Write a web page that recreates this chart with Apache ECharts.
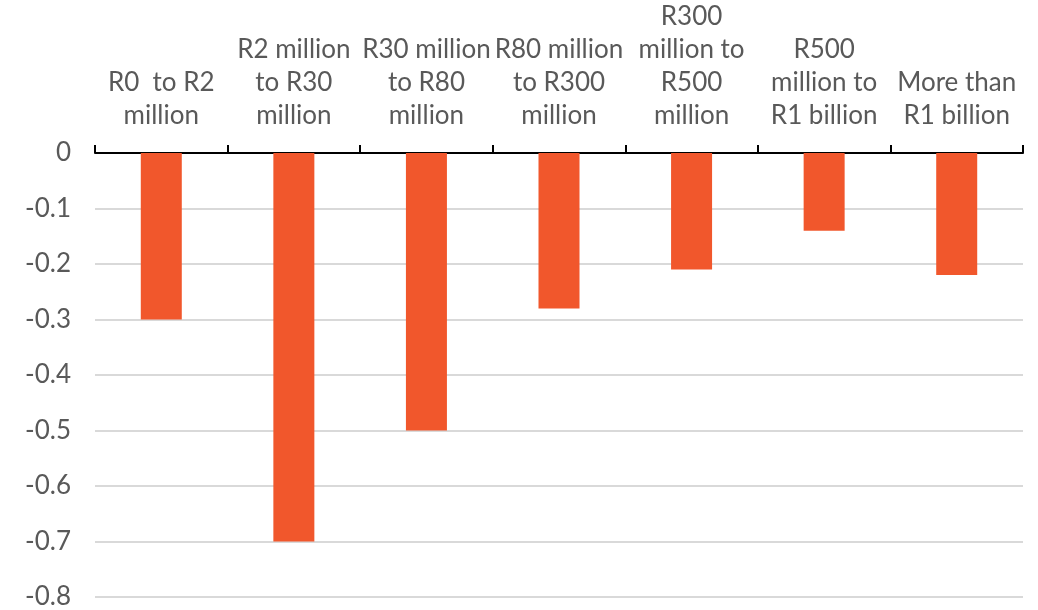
<!DOCTYPE html>
<html>
<head>
<meta charset="utf-8">
<script src="https://cdn.jsdelivr.net/npm/echarts@6/dist/echarts.min.js"></script>
<style>
  html, body { margin: 0; padding: 0; background: #ffffff; }
  #chart { width: 1038px; height: 610px; }
</style>
</head>
<body>
<div id="chart"></div>
<script>
// Turnover bands (line breaks keep the wrapping of each band label)
const categories = [
  'R0  to R2\nmillion',
  'R2 million\nto R30\nmillion',
  'R30 million\nto R80\nmillion',
  'R80 million\nto R300\nmillion',
  'R300\nmillion to\nR500\nmillion',
  'R500\nmillion to\nR1 billion',
  'More than\nR1 billion'
];

// Change per band
const values = [-0.30, -0.70, -0.50, -0.28, -0.21, -0.14, -0.22];

// Value axis range and step
const yMin = -0.8;
const yMax = 0;
const yStep = 0.1;

const textColor = '#595959';
const fontFamily = 'Lato, "Open Sans", sans-serif';

const chart = echarts.init(document.getElementById('chart'), null, { renderer: 'canvas' });

chart.setOption({
  animation: false,
  backgroundColor: '#ffffff',
  grid: { left: 95, right: 15, top: 151, bottom: 11, containLabel: false },
  xAxis: {
    type: 'category',
    position: 'top',
    data: categories,
    axisLine: { show: true, onZero: false, lineStyle: { color: '#000000', width: 2 } },
    axisTick: { show: true, length: 8, inside: false, lineStyle: { color: '#000000', width: 2 } },
    axisLabel: {
      interval: 0,
      margin: 21,
      color: textColor,
      fontFamily: fontFamily,
      fontSize: 26,
      lineHeight: 33,
      align: 'center'
    },
    splitLine: { show: false }
  },
  yAxis: {
    type: 'value',
    min: yMin,
    max: yMax,
    interval: yStep,
    axisLine: { show: false },
    axisTick: { show: false },
    axisLabel: {
      margin: 24,
      color: textColor,
      fontFamily: fontFamily,
      fontSize: 26,
      formatter: function (v) { return String(Math.round(v * 10) / 10); }
    },
    splitLine: { show: true, lineStyle: { color: '#D9D9D9', width: 2 } }
  },
  series: [{
    type: 'bar',
    data: values,
    barWidth: 41,
    itemStyle: { color: '#F1572C' },
    z: 3
  }]
});
</script>
</body>
</html>
